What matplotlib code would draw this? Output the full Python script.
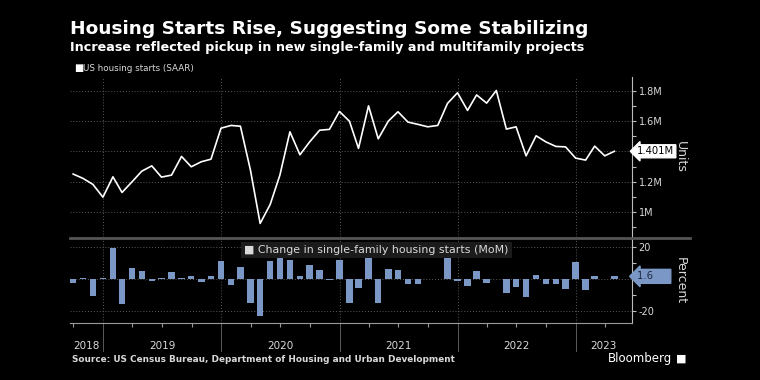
import matplotlib
matplotlib.use("Agg")
import matplotlib.pyplot as plt
import matplotlib.dates as mdates
import numpy as np
import pandas as pd
from matplotlib.lines import Line2D
from matplotlib.ticker import FixedLocator, MultipleLocator, FuncFormatter

# monthly data, Sep 2018 - Apr 2023
months = pd.date_range("2018-09-30", "2023-04-30", freq="ME")

starts = [1.251, 1.222, 1.183, 1.099,
          1.233, 1.130, 1.200, 1.270, 1.305, 1.231, 1.244, 1.367, 1.299, 1.332, 1.349, 1.553,
          1.571, 1.566, 1.277, 0.926, 1.051, 1.244, 1.529, 1.378, 1.463, 1.540, 1.545, 1.663,
          1.599, 1.420, 1.700, 1.483, 1.599, 1.661, 1.593, 1.578, 1.562, 1.571, 1.716, 1.786,
          1.670, 1.772, 1.718, 1.801, 1.547, 1.562, 1.371, 1.503, 1.463, 1.433, 1.430, 1.356,
          1.343, 1.435, 1.371, 1.401]

sf_change = [-2.5, 0.3, -10.4, 0.3,
             19.5, -15.5, 6.8, 5.0, -1.0, 0.6, 4.3, 0.6, 2.0, -2.0, 1.9, 11.0,
             -3.7, 7.5, -15.0, -22.8, 11.0, 14.7, 12.0, 1.7, 8.5, 5.8, -0.4, 12.0,
             -14.7, -5.6, 18.7, -15.0, 6.4, 5.8, -2.9, -2.9, 0.2, -0.2, 13.3, -1.0,
             -4.6, 5.0, -2.3, -0.2, -8.9, -5.2, -11.0, 2.5, -3.1, -2.9, -6.0, 10.6,
             -7.0, 1.7, -0.2, 1.6]

years = [2018, 2019, 2020, 2021, 2022, 2023]

title = "Housing Starts Rise, Suggesting Some Stabilizing"
subtitle = "Increase reflected pickup in new single-family and multifamily projects"
source = "Source: US Census Bureau, Department of Housing and Urban Development"

BG = "black"
GRID = "#5a5a5a"
TXT = "#d9d9d9"
BAR = "#7a97c5"

x0 = pd.Timestamp("2018-09-20")
x1 = pd.Timestamp("2023-06-22")

fig = plt.figure(figsize=(7.6, 3.8), dpi=100, facecolor=BG)
ax1 = fig.add_axes([0.092, 0.376, 0.739, 0.421], facecolor=BG)
ax2 = fig.add_axes([0.092, 0.150, 0.739, 0.221], facecolor=BG, sharex=ax1)

for ax in (ax1, ax2):
    for s in ("top", "left", "bottom"):
        ax.spines[s].set_visible(False)
    ax.spines["right"].set_color("#bbbbbb")
    ax.spines["right"].set_linewidth(0.8)
    ax.yaxis.tick_right()
    ax.tick_params(axis="y", which="both", colors="#bbbbbb", labelcolor=TXT,
                   labelsize=7, length=3, width=0.8, pad=2)
    ax.grid(axis="y", which="major", color=GRID, linestyle=(0, (1, 2)), linewidth=0.7)
    for y in years[1:]:
        ax.axvline(pd.Timestamp(f"{y}-01-01"), color=GRID, linestyle=(0, (1, 2)),
                   linewidth=0.7, zorder=0)

# top panel: line
ax1.plot(months, starts, color="white", linewidth=1.2)
ax1.set_xlim(x0, x1)
ax1.set_ylim(0.836, 1.889)
ax1.yaxis.set_major_locator(FixedLocator([1.0, 1.2, 1.4, 1.6, 1.8]))
ax1.yaxis.set_minor_locator(MultipleLocator(0.1))
ax1.yaxis.set_major_formatter(FuncFormatter(
    lambda v, p: "" if abs(v - 1.4) < 1e-6 else ("1M" if abs(v - 1) < 1e-6 else f"{v:.1f}M")))
ax1.tick_params(axis="x", which="both", bottom=False, labelbottom=False)
ax1.text(1.01, starts[-1], f"{starts[-1]:.3f}M", transform=ax1.get_yaxis_transform(),
         ha="left", va="center", fontsize=7.2, color="black",
         bbox=dict(boxstyle="larrow,pad=0.15", fc="white", ec="white"))
ax1.text(1.075, 0.5, "Units", transform=ax1.transAxes, rotation=-90,
         ha="left", va="center", color=TXT, fontsize=9)
ax1.text(0.008, 1.055, "\u25a0", transform=ax1.transAxes, color="white", fontsize=7,
         ha="left", va="center")
ax1.text(0.023, 1.055, "US housing starts (SAAR)", transform=ax1.transAxes,
         color=TXT, fontsize=6.3, ha="left", va="center")

# bottom panel: bars
ax2.bar(months, sf_change, width=20, color=BAR, zorder=2)
ax2.set_ylim(-27.4, 24.8)
ax2.yaxis.set_major_locator(FixedLocator([-20, 0, 20]))
ax2.yaxis.set_minor_locator(FixedLocator([-10, 10]))
ax2.yaxis.set_major_formatter(FuncFormatter(lambda v, p: "" if v == 0 else f"{v:.0f}"))
ax2.spines["bottom"].set_visible(True)
ax2.spines["bottom"].set_color("#9a9a9a")
ax2.spines["bottom"].set_linewidth(0.8)
qticks = [d for d in pd.date_range("2018-10-01", "2023-04-01", freq="QS") if d.month != 1]
ax2.xaxis.set_major_locator(FixedLocator(mdates.date2num(qticks)))
ax2.tick_params(axis="x", which="major", colors="#9a9a9a", length=3, width=0.8,
                labelbottom=False)
for y in years[1:]:
    ax2.axvline(pd.Timestamp(f"{y}-01-01"), ymin=-0.33, ymax=0, color=GRID,
                linewidth=0.7, clip_on=False)
# year labels centred on the visible part of each year
for y in years:
    a = max(pd.Timestamp(f"{y}-01-01"), x0)
    b = min(pd.Timestamp(f"{y + 1}-01-01"), x1)
    ax2.text(a + (b - a) / 2, -0.27, str(y), transform=ax2.get_xaxis_transform(),
             ha="center", va="center", color=TXT, fontsize=7.5)
ax2.text(1.01, sf_change[-1], f"{sf_change[-1]:.1f}     ", transform=ax2.get_yaxis_transform(),
         ha="left", va="center", fontsize=7.2, color="#1c2840",
         bbox=dict(boxstyle="larrow,pad=0.2", fc=BAR, ec=BAR))
ax2.text(1.075, 0.5, "Percent", transform=ax2.transAxes, rotation=-90,
         ha="left", va="center", color=TXT, fontsize=9)
ax2.text(0.31, 0.87, "\u25a0 Change in single-family housing starts (MoM)",
         transform=ax2.transAxes, color=TXT, fontsize=7.9, ha="left", va="center",
         bbox=dict(boxstyle="square,pad=0.3", fc="#1b1b1b", ec="none"), zorder=5)

# separator between panels
fig.add_artist(Line2D([0.092, 0.908], [1 - 237.5 / 380] * 2, color="#555555",
                      linewidth=2, transform=fig.transFigure))

fig.text(0.092, 0.91, title, color="white", fontsize=13.3, fontweight="bold",
         ha="left", va="baseline")
fig.text(0.092, 0.866, subtitle, color="white", fontsize=9.2, fontweight="bold",
         ha="left", va="baseline")
fig.text(0.095, 0.048, source, color=TXT, fontsize=6.4, fontweight="bold",
         ha="left", va="baseline")
fig.text(0.885, 0.048, "Bloomberg", color="white", fontsize=8.5,
         ha="right", va="baseline")
fig.text(0.89, 0.048, "\u25a0", color="white", fontsize=8, ha="left", va="baseline")

fig.savefig("out.png", dpi=100, facecolor=BG)
